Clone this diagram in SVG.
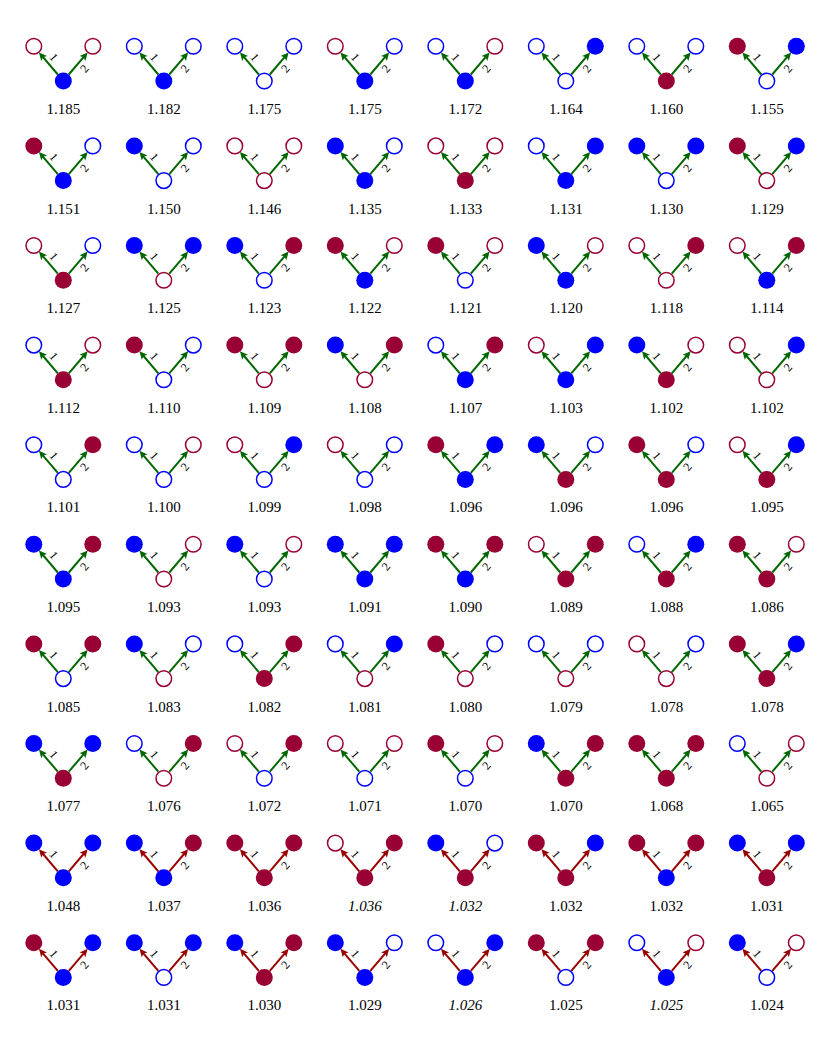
<svg xmlns="http://www.w3.org/2000/svg" xmlns:xlink="http://www.w3.org/1999/xlink" width="830" height="1037" viewBox="0 0 830 1037">
<style>
.bf{fill:#0000ff}
.rf{fill:#990033}
.bo{fill:#fff;stroke:#0000ff;stroke-width:1.5}
.ro{fill:#fff;stroke:#990033;stroke-width:1.5}
.v{font-family:"Liberation Serif","Times New Roman",serif;font-size:15px;text-anchor:middle;fill:#000}
.i{font-style:italic}
.el{font-family:"Liberation Serif","Times New Roman",serif;font-size:12px;text-anchor:middle;dominant-baseline:central;fill:#000}
.eg{stroke:#006600;stroke-width:2;fill:none}
.er{stroke:#990000;stroke-width:2;fill:none}
</style>
<defs>
<marker id="ag" markerUnits="userSpaceOnUse" orient="auto" overflow="visible" markerWidth="10" markerHeight="10" refX="0" refY="0"><path d="M5,0 L-3,-3.8 L-1.3,0 L-3,3.8 Z" fill="#006600"/></marker>
<marker id="ar" markerUnits="userSpaceOnUse" orient="auto" overflow="visible" markerWidth="10" markerHeight="10" refX="0" refY="0"><path d="M5,0 L-3,-3.8 L-1.3,0 L-3,3.8 Z" fill="#990000"/></marker>
<path id="gL" class="eg" d="M-5.5,28.2 L-21.1,9.9" marker-end="url(#ag)"/>
<path id="gR" class="eg" d="M5.5,28.2 L21.1,9.9" marker-end="url(#ag)"/>
<path id="rL" class="er" d="M-5.5,28.2 L-21.1,9.9" marker-end="url(#ar)"/>
<path id="rR" class="er" d="M5.5,28.2 L21.1,9.9" marker-end="url(#ar)"/>
</defs>
<rect width="830" height="1037" fill="#fff"/>
<g id="connectors">
<g transform="translate(63.3,46.3)"><use href="#gL"/><use href="#gR"/><text class="el" transform="translate(-9.5,11) rotate(49.6)">1</text><text class="el" transform="translate(21.2,22.2) rotate(-49.6)">2</text></g>
<g transform="translate(163.8,46.3)"><use href="#gL"/><use href="#gR"/><text class="el" transform="translate(-9.5,11) rotate(49.6)">1</text><text class="el" transform="translate(21.2,22.2) rotate(-49.6)">2</text></g>
<g transform="translate(264.3,46.3)"><use href="#gL"/><use href="#gR"/><text class="el" transform="translate(-9.5,11) rotate(49.6)">1</text><text class="el" transform="translate(21.2,22.2) rotate(-49.6)">2</text></g>
<g transform="translate(364.8,46.3)"><use href="#gL"/><use href="#gR"/><text class="el" transform="translate(-9.5,11) rotate(49.6)">1</text><text class="el" transform="translate(21.2,22.2) rotate(-49.6)">2</text></g>
<g transform="translate(465.3,46.3)"><use href="#gL"/><use href="#gR"/><text class="el" transform="translate(-9.5,11) rotate(49.6)">1</text><text class="el" transform="translate(21.2,22.2) rotate(-49.6)">2</text></g>
<g transform="translate(565.8,46.3)"><use href="#gL"/><use href="#gR"/><text class="el" transform="translate(-9.5,11) rotate(49.6)">1</text><text class="el" transform="translate(21.2,22.2) rotate(-49.6)">2</text></g>
<g transform="translate(666.3,46.3)"><use href="#gL"/><use href="#gR"/><text class="el" transform="translate(-9.5,11) rotate(49.6)">1</text><text class="el" transform="translate(21.2,22.2) rotate(-49.6)">2</text></g>
<g transform="translate(766.8,46.3)"><use href="#gL"/><use href="#gR"/><text class="el" transform="translate(-9.5,11) rotate(49.6)">1</text><text class="el" transform="translate(21.2,22.2) rotate(-49.6)">2</text></g>
<g transform="translate(63.3,145.9)"><use href="#gL"/><use href="#gR"/><text class="el" transform="translate(-9.5,11) rotate(49.6)">1</text><text class="el" transform="translate(21.2,22.2) rotate(-49.6)">2</text></g>
<g transform="translate(163.8,145.9)"><use href="#gL"/><use href="#gR"/><text class="el" transform="translate(-9.5,11) rotate(49.6)">1</text><text class="el" transform="translate(21.2,22.2) rotate(-49.6)">2</text></g>
<g transform="translate(264.3,145.9)"><use href="#gL"/><use href="#gR"/><text class="el" transform="translate(-9.5,11) rotate(49.6)">1</text><text class="el" transform="translate(21.2,22.2) rotate(-49.6)">2</text></g>
<g transform="translate(364.8,145.9)"><use href="#gL"/><use href="#gR"/><text class="el" transform="translate(-9.5,11) rotate(49.6)">1</text><text class="el" transform="translate(21.2,22.2) rotate(-49.6)">2</text></g>
<g transform="translate(465.3,145.9)"><use href="#gL"/><use href="#gR"/><text class="el" transform="translate(-9.5,11) rotate(49.6)">1</text><text class="el" transform="translate(21.2,22.2) rotate(-49.6)">2</text></g>
<g transform="translate(565.8,145.9)"><use href="#gL"/><use href="#gR"/><text class="el" transform="translate(-9.5,11) rotate(49.6)">1</text><text class="el" transform="translate(21.2,22.2) rotate(-49.6)">2</text></g>
<g transform="translate(666.3,145.9)"><use href="#gL"/><use href="#gR"/><text class="el" transform="translate(-9.5,11) rotate(49.6)">1</text><text class="el" transform="translate(21.2,22.2) rotate(-49.6)">2</text></g>
<g transform="translate(766.8,145.9)"><use href="#gL"/><use href="#gR"/><text class="el" transform="translate(-9.5,11) rotate(49.6)">1</text><text class="el" transform="translate(21.2,22.2) rotate(-49.6)">2</text></g>
<g transform="translate(63.3,245.5)"><use href="#gL"/><use href="#gR"/><text class="el" transform="translate(-9.5,11) rotate(49.6)">1</text><text class="el" transform="translate(21.2,22.2) rotate(-49.6)">2</text></g>
<g transform="translate(163.8,245.5)"><use href="#gL"/><use href="#gR"/><text class="el" transform="translate(-9.5,11) rotate(49.6)">1</text><text class="el" transform="translate(21.2,22.2) rotate(-49.6)">2</text></g>
<g transform="translate(264.3,245.5)"><use href="#gL"/><use href="#gR"/><text class="el" transform="translate(-9.5,11) rotate(49.6)">1</text><text class="el" transform="translate(21.2,22.2) rotate(-49.6)">2</text></g>
<g transform="translate(364.8,245.5)"><use href="#gL"/><use href="#gR"/><text class="el" transform="translate(-9.5,11) rotate(49.6)">1</text><text class="el" transform="translate(21.2,22.2) rotate(-49.6)">2</text></g>
<g transform="translate(465.3,245.5)"><use href="#gL"/><use href="#gR"/><text class="el" transform="translate(-9.5,11) rotate(49.6)">1</text><text class="el" transform="translate(21.2,22.2) rotate(-49.6)">2</text></g>
<g transform="translate(565.8,245.5)"><use href="#gL"/><use href="#gR"/><text class="el" transform="translate(-9.5,11) rotate(49.6)">1</text><text class="el" transform="translate(21.2,22.2) rotate(-49.6)">2</text></g>
<g transform="translate(666.3,245.5)"><use href="#gL"/><use href="#gR"/><text class="el" transform="translate(-9.5,11) rotate(49.6)">1</text><text class="el" transform="translate(21.2,22.2) rotate(-49.6)">2</text></g>
<g transform="translate(766.8,245.5)"><use href="#gL"/><use href="#gR"/><text class="el" transform="translate(-9.5,11) rotate(49.6)">1</text><text class="el" transform="translate(21.2,22.2) rotate(-49.6)">2</text></g>
<g transform="translate(63.3,345.1)"><use href="#gL"/><use href="#gR"/><text class="el" transform="translate(-9.5,11) rotate(49.6)">1</text><text class="el" transform="translate(21.2,22.2) rotate(-49.6)">2</text></g>
<g transform="translate(163.8,345.1)"><use href="#gL"/><use href="#gR"/><text class="el" transform="translate(-9.5,11) rotate(49.6)">1</text><text class="el" transform="translate(21.2,22.2) rotate(-49.6)">2</text></g>
<g transform="translate(264.3,345.1)"><use href="#gL"/><use href="#gR"/><text class="el" transform="translate(-9.5,11) rotate(49.6)">1</text><text class="el" transform="translate(21.2,22.2) rotate(-49.6)">2</text></g>
<g transform="translate(364.8,345.1)"><use href="#gL"/><use href="#gR"/><text class="el" transform="translate(-9.5,11) rotate(49.6)">1</text><text class="el" transform="translate(21.2,22.2) rotate(-49.6)">2</text></g>
<g transform="translate(465.3,345.1)"><use href="#gL"/><use href="#gR"/><text class="el" transform="translate(-9.5,11) rotate(49.6)">1</text><text class="el" transform="translate(21.2,22.2) rotate(-49.6)">2</text></g>
<g transform="translate(565.8,345.1)"><use href="#gL"/><use href="#gR"/><text class="el" transform="translate(-9.5,11) rotate(49.6)">1</text><text class="el" transform="translate(21.2,22.2) rotate(-49.6)">2</text></g>
<g transform="translate(666.3,345.1)"><use href="#gL"/><use href="#gR"/><text class="el" transform="translate(-9.5,11) rotate(49.6)">1</text><text class="el" transform="translate(21.2,22.2) rotate(-49.6)">2</text></g>
<g transform="translate(766.8,345.1)"><use href="#gL"/><use href="#gR"/><text class="el" transform="translate(-9.5,11) rotate(49.6)">1</text><text class="el" transform="translate(21.2,22.2) rotate(-49.6)">2</text></g>
<g transform="translate(63.3,444.7)"><use href="#gL"/><use href="#gR"/><text class="el" transform="translate(-9.5,11) rotate(49.6)">1</text><text class="el" transform="translate(21.2,22.2) rotate(-49.6)">2</text></g>
<g transform="translate(163.8,444.7)"><use href="#gL"/><use href="#gR"/><text class="el" transform="translate(-9.5,11) rotate(49.6)">1</text><text class="el" transform="translate(21.2,22.2) rotate(-49.6)">2</text></g>
<g transform="translate(264.3,444.7)"><use href="#gL"/><use href="#gR"/><text class="el" transform="translate(-9.5,11) rotate(49.6)">1</text><text class="el" transform="translate(21.2,22.2) rotate(-49.6)">2</text></g>
<g transform="translate(364.8,444.7)"><use href="#gL"/><use href="#gR"/><text class="el" transform="translate(-9.5,11) rotate(49.6)">1</text><text class="el" transform="translate(21.2,22.2) rotate(-49.6)">2</text></g>
<g transform="translate(465.3,444.7)"><use href="#gL"/><use href="#gR"/><text class="el" transform="translate(-9.5,11) rotate(49.6)">1</text><text class="el" transform="translate(21.2,22.2) rotate(-49.6)">2</text></g>
<g transform="translate(565.8,444.7)"><use href="#gL"/><use href="#gR"/><text class="el" transform="translate(-9.5,11) rotate(49.6)">1</text><text class="el" transform="translate(21.2,22.2) rotate(-49.6)">2</text></g>
<g transform="translate(666.3,444.7)"><use href="#gL"/><use href="#gR"/><text class="el" transform="translate(-9.5,11) rotate(49.6)">1</text><text class="el" transform="translate(21.2,22.2) rotate(-49.6)">2</text></g>
<g transform="translate(766.8,444.7)"><use href="#gL"/><use href="#gR"/><text class="el" transform="translate(-9.5,11) rotate(49.6)">1</text><text class="el" transform="translate(21.2,22.2) rotate(-49.6)">2</text></g>
<g transform="translate(63.3,544.3)"><use href="#gL"/><use href="#gR"/><text class="el" transform="translate(-9.5,11) rotate(49.6)">1</text><text class="el" transform="translate(21.2,22.2) rotate(-49.6)">2</text></g>
<g transform="translate(163.8,544.3)"><use href="#gL"/><use href="#gR"/><text class="el" transform="translate(-9.5,11) rotate(49.6)">1</text><text class="el" transform="translate(21.2,22.2) rotate(-49.6)">2</text></g>
<g transform="translate(264.3,544.3)"><use href="#gL"/><use href="#gR"/><text class="el" transform="translate(-9.5,11) rotate(49.6)">1</text><text class="el" transform="translate(21.2,22.2) rotate(-49.6)">2</text></g>
<g transform="translate(364.8,544.3)"><use href="#gL"/><use href="#gR"/><text class="el" transform="translate(-9.5,11) rotate(49.6)">1</text><text class="el" transform="translate(21.2,22.2) rotate(-49.6)">2</text></g>
<g transform="translate(465.3,544.3)"><use href="#gL"/><use href="#gR"/><text class="el" transform="translate(-9.5,11) rotate(49.6)">1</text><text class="el" transform="translate(21.2,22.2) rotate(-49.6)">2</text></g>
<g transform="translate(565.8,544.3)"><use href="#gL"/><use href="#gR"/><text class="el" transform="translate(-9.5,11) rotate(49.6)">1</text><text class="el" transform="translate(21.2,22.2) rotate(-49.6)">2</text></g>
<g transform="translate(666.3,544.3)"><use href="#gL"/><use href="#gR"/><text class="el" transform="translate(-9.5,11) rotate(49.6)">1</text><text class="el" transform="translate(21.2,22.2) rotate(-49.6)">2</text></g>
<g transform="translate(766.8,544.3)"><use href="#gL"/><use href="#gR"/><text class="el" transform="translate(-9.5,11) rotate(49.6)">1</text><text class="el" transform="translate(21.2,22.2) rotate(-49.6)">2</text></g>
<g transform="translate(63.3,643.9)"><use href="#gL"/><use href="#gR"/><text class="el" transform="translate(-9.5,11) rotate(49.6)">1</text><text class="el" transform="translate(21.2,22.2) rotate(-49.6)">2</text></g>
<g transform="translate(163.8,643.9)"><use href="#gL"/><use href="#gR"/><text class="el" transform="translate(-9.5,11) rotate(49.6)">1</text><text class="el" transform="translate(21.2,22.2) rotate(-49.6)">2</text></g>
<g transform="translate(264.3,643.9)"><use href="#gL"/><use href="#gR"/><text class="el" transform="translate(-9.5,11) rotate(49.6)">1</text><text class="el" transform="translate(21.2,22.2) rotate(-49.6)">2</text></g>
<g transform="translate(364.8,643.9)"><use href="#gL"/><use href="#gR"/><text class="el" transform="translate(-9.5,11) rotate(49.6)">1</text><text class="el" transform="translate(21.2,22.2) rotate(-49.6)">2</text></g>
<g transform="translate(465.3,643.9)"><use href="#gL"/><use href="#gR"/><text class="el" transform="translate(-9.5,11) rotate(49.6)">1</text><text class="el" transform="translate(21.2,22.2) rotate(-49.6)">2</text></g>
<g transform="translate(565.8,643.9)"><use href="#gL"/><use href="#gR"/><text class="el" transform="translate(-9.5,11) rotate(49.6)">1</text><text class="el" transform="translate(21.2,22.2) rotate(-49.6)">2</text></g>
<g transform="translate(666.3,643.9)"><use href="#gL"/><use href="#gR"/><text class="el" transform="translate(-9.5,11) rotate(49.6)">1</text><text class="el" transform="translate(21.2,22.2) rotate(-49.6)">2</text></g>
<g transform="translate(766.8,643.9)"><use href="#gL"/><use href="#gR"/><text class="el" transform="translate(-9.5,11) rotate(49.6)">1</text><text class="el" transform="translate(21.2,22.2) rotate(-49.6)">2</text></g>
<g transform="translate(63.3,743.5)"><use href="#gL"/><use href="#gR"/><text class="el" transform="translate(-9.5,11) rotate(49.6)">1</text><text class="el" transform="translate(21.2,22.2) rotate(-49.6)">2</text></g>
<g transform="translate(163.8,743.5)"><use href="#gL"/><use href="#gR"/><text class="el" transform="translate(-9.5,11) rotate(49.6)">1</text><text class="el" transform="translate(21.2,22.2) rotate(-49.6)">2</text></g>
<g transform="translate(264.3,743.5)"><use href="#gL"/><use href="#gR"/><text class="el" transform="translate(-9.5,11) rotate(49.6)">1</text><text class="el" transform="translate(21.2,22.2) rotate(-49.6)">2</text></g>
<g transform="translate(364.8,743.5)"><use href="#gL"/><use href="#gR"/><text class="el" transform="translate(-9.5,11) rotate(49.6)">1</text><text class="el" transform="translate(21.2,22.2) rotate(-49.6)">2</text></g>
<g transform="translate(465.3,743.5)"><use href="#gL"/><use href="#gR"/><text class="el" transform="translate(-9.5,11) rotate(49.6)">1</text><text class="el" transform="translate(21.2,22.2) rotate(-49.6)">2</text></g>
<g transform="translate(565.8,743.5)"><use href="#gL"/><use href="#gR"/><text class="el" transform="translate(-9.5,11) rotate(49.6)">1</text><text class="el" transform="translate(21.2,22.2) rotate(-49.6)">2</text></g>
<g transform="translate(666.3,743.5)"><use href="#gL"/><use href="#gR"/><text class="el" transform="translate(-9.5,11) rotate(49.6)">1</text><text class="el" transform="translate(21.2,22.2) rotate(-49.6)">2</text></g>
<g transform="translate(766.8,743.5)"><use href="#gL"/><use href="#gR"/><text class="el" transform="translate(-9.5,11) rotate(49.6)">1</text><text class="el" transform="translate(21.2,22.2) rotate(-49.6)">2</text></g>
<g transform="translate(63.3,843.1)"><use href="#rL"/><use href="#rR"/><text class="el" transform="translate(-9.5,11) rotate(49.6)">1</text><text class="el" transform="translate(21.2,22.2) rotate(-49.6)">2</text></g>
<g transform="translate(163.8,843.1)"><use href="#rL"/><use href="#rR"/><text class="el" transform="translate(-9.5,11) rotate(49.6)">1</text><text class="el" transform="translate(21.2,22.2) rotate(-49.6)">2</text></g>
<g transform="translate(264.3,843.1)"><use href="#rL"/><use href="#rR"/><text class="el" transform="translate(-9.5,11) rotate(49.6)">1</text><text class="el" transform="translate(21.2,22.2) rotate(-49.6)">2</text></g>
<g transform="translate(364.8,843.1)"><use href="#rL"/><use href="#rR"/><text class="el" transform="translate(-9.5,11) rotate(49.6)">1</text><text class="el" transform="translate(21.2,22.2) rotate(-49.6)">2</text></g>
<g transform="translate(465.3,843.1)"><use href="#rL"/><use href="#rR"/><text class="el" transform="translate(-9.5,11) rotate(49.6)">1</text><text class="el" transform="translate(21.2,22.2) rotate(-49.6)">2</text></g>
<g transform="translate(565.8,843.1)"><use href="#rL"/><use href="#rR"/><text class="el" transform="translate(-9.5,11) rotate(49.6)">1</text><text class="el" transform="translate(21.2,22.2) rotate(-49.6)">2</text></g>
<g transform="translate(666.3,843.1)"><use href="#rL"/><use href="#rR"/><text class="el" transform="translate(-9.5,11) rotate(49.6)">1</text><text class="el" transform="translate(21.2,22.2) rotate(-49.6)">2</text></g>
<g transform="translate(766.8,843.1)"><use href="#rL"/><use href="#rR"/><text class="el" transform="translate(-9.5,11) rotate(49.6)">1</text><text class="el" transform="translate(21.2,22.2) rotate(-49.6)">2</text></g>
<g transform="translate(63.3,942.7)"><use href="#rL"/><use href="#rR"/><text class="el" transform="translate(-9.5,11) rotate(49.6)">1</text><text class="el" transform="translate(21.2,22.2) rotate(-49.6)">2</text></g>
<g transform="translate(163.8,942.7)"><use href="#rL"/><use href="#rR"/><text class="el" transform="translate(-9.5,11) rotate(49.6)">1</text><text class="el" transform="translate(21.2,22.2) rotate(-49.6)">2</text></g>
<g transform="translate(264.3,942.7)"><use href="#rL"/><use href="#rR"/><text class="el" transform="translate(-9.5,11) rotate(49.6)">1</text><text class="el" transform="translate(21.2,22.2) rotate(-49.6)">2</text></g>
<g transform="translate(364.8,942.7)"><use href="#rL"/><use href="#rR"/><text class="el" transform="translate(-9.5,11) rotate(49.6)">1</text><text class="el" transform="translate(21.2,22.2) rotate(-49.6)">2</text></g>
<g transform="translate(465.3,942.7)"><use href="#rL"/><use href="#rR"/><text class="el" transform="translate(-9.5,11) rotate(49.6)">1</text><text class="el" transform="translate(21.2,22.2) rotate(-49.6)">2</text></g>
<g transform="translate(565.8,942.7)"><use href="#rL"/><use href="#rR"/><text class="el" transform="translate(-9.5,11) rotate(49.6)">1</text><text class="el" transform="translate(21.2,22.2) rotate(-49.6)">2</text></g>
<g transform="translate(666.3,942.7)"><use href="#rL"/><use href="#rR"/><text class="el" transform="translate(-9.5,11) rotate(49.6)">1</text><text class="el" transform="translate(21.2,22.2) rotate(-49.6)">2</text></g>
<g transform="translate(766.8,942.7)"><use href="#rL"/><use href="#rR"/><text class="el" transform="translate(-9.5,11) rotate(49.6)">1</text><text class="el" transform="translate(21.2,22.2) rotate(-49.6)">2</text></g>
</g>
<g id="cells">
<g id="c1-1" transform="translate(63.3,46.3)"><g id="c1-1-l"><circle class="ro" cx="-29.5" r="7.8"/></g><g id="c1-1-r"><circle class="ro" cx="29.5" r="7.8"/></g><g id="c1-1-b"><circle class="bf" cy="34.7" r="8.5"/></g><text class="v" y="67.7">1.185</text></g>
<g id="c1-2" transform="translate(163.8,46.3)"><g id="c1-2-l"><circle class="bo" cx="-29.5" r="7.8"/></g><g id="c1-2-r"><circle class="bo" cx="29.5" r="7.8"/></g><g id="c1-2-b"><circle class="bf" cy="34.7" r="8.5"/></g><text class="v" y="67.7">1.182</text></g>
<g id="c1-3" transform="translate(264.3,46.3)"><g id="c1-3-l"><circle class="bo" cx="-29.5" r="7.8"/></g><g id="c1-3-r"><circle class="bo" cx="29.5" r="7.8"/></g><g id="c1-3-b"><circle class="bo" cy="34.7" r="7.8"/></g><text class="v" y="67.7">1.175</text></g>
<g id="c1-4" transform="translate(364.8,46.3)"><g id="c1-4-l"><circle class="ro" cx="-29.5" r="7.8"/></g><g id="c1-4-r"><circle class="bo" cx="29.5" r="7.8"/></g><g id="c1-4-b"><circle class="bf" cy="34.7" r="8.5"/></g><text class="v" y="67.7">1.175</text></g>
<g id="c1-5" transform="translate(465.3,46.3)"><g id="c1-5-l"><circle class="bo" cx="-29.5" r="7.8"/></g><g id="c1-5-r"><circle class="ro" cx="29.5" r="7.8"/></g><g id="c1-5-b"><circle class="bf" cy="34.7" r="8.5"/></g><text class="v" y="67.7">1.172</text></g>
<g id="c1-6" transform="translate(565.8,46.3)"><g id="c1-6-l"><circle class="bo" cx="-29.5" r="7.8"/></g><g id="c1-6-r"><circle class="bf" cx="29.5" r="8.5"/></g><g id="c1-6-b"><circle class="bo" cy="34.7" r="7.8"/></g><text class="v" y="67.7">1.164</text></g>
<g id="c1-7" transform="translate(666.3,46.3)"><g id="c1-7-l"><circle class="bo" cx="-29.5" r="7.8"/></g><g id="c1-7-r"><circle class="bo" cx="29.5" r="7.8"/></g><g id="c1-7-b"><circle class="rf" cy="34.7" r="8.5"/></g><text class="v" y="67.7">1.160</text></g>
<g id="c1-8" transform="translate(766.8,46.3)"><g id="c1-8-l"><circle class="rf" cx="-29.5" r="8.5"/></g><g id="c1-8-r"><circle class="bf" cx="29.5" r="8.5"/></g><g id="c1-8-b"><circle class="bo" cy="34.7" r="7.8"/></g><text class="v" y="67.7">1.155</text></g>
<g id="c2-1" transform="translate(63.3,145.9)"><g id="c2-1-l"><circle class="rf" cx="-29.5" r="8.5"/></g><g id="c2-1-r"><circle class="bo" cx="29.5" r="7.8"/></g><g id="c2-1-b"><circle class="bf" cy="34.7" r="8.5"/></g><text class="v" y="67.7">1.151</text></g>
<g id="c2-2" transform="translate(163.8,145.9)"><g id="c2-2-l"><circle class="bf" cx="-29.5" r="8.5"/></g><g id="c2-2-r"><circle class="bo" cx="29.5" r="7.8"/></g><g id="c2-2-b"><circle class="bo" cy="34.7" r="7.8"/></g><text class="v" y="67.7">1.150</text></g>
<g id="c2-3" transform="translate(264.3,145.9)"><g id="c2-3-l"><circle class="ro" cx="-29.5" r="7.8"/></g><g id="c2-3-r"><circle class="ro" cx="29.5" r="7.8"/></g><g id="c2-3-b"><circle class="ro" cy="34.7" r="7.8"/></g><text class="v" y="67.7">1.146</text></g>
<g id="c2-4" transform="translate(364.8,145.9)"><g id="c2-4-l"><circle class="bf" cx="-29.5" r="8.5"/></g><g id="c2-4-r"><circle class="bo" cx="29.5" r="7.8"/></g><g id="c2-4-b"><circle class="bf" cy="34.7" r="8.5"/></g><text class="v" y="67.7">1.135</text></g>
<g id="c2-5" transform="translate(465.3,145.9)"><g id="c2-5-l"><circle class="ro" cx="-29.5" r="7.8"/></g><g id="c2-5-r"><circle class="ro" cx="29.5" r="7.8"/></g><g id="c2-5-b"><circle class="rf" cy="34.7" r="8.5"/></g><text class="v" y="67.7">1.133</text></g>
<g id="c2-6" transform="translate(565.8,145.9)"><g id="c2-6-l"><circle class="bo" cx="-29.5" r="7.8"/></g><g id="c2-6-r"><circle class="bf" cx="29.5" r="8.5"/></g><g id="c2-6-b"><circle class="bf" cy="34.7" r="8.5"/></g><text class="v" y="67.7">1.131</text></g>
<g id="c2-7" transform="translate(666.3,145.9)"><g id="c2-7-l"><circle class="bf" cx="-29.5" r="8.5"/></g><g id="c2-7-r"><circle class="bf" cx="29.5" r="8.5"/></g><g id="c2-7-b"><circle class="bo" cy="34.7" r="7.8"/></g><text class="v" y="67.7">1.130</text></g>
<g id="c2-8" transform="translate(766.8,145.9)"><g id="c2-8-l"><circle class="rf" cx="-29.5" r="8.5"/></g><g id="c2-8-r"><circle class="bf" cx="29.5" r="8.5"/></g><g id="c2-8-b"><circle class="ro" cy="34.7" r="7.8"/></g><text class="v" y="67.7">1.129</text></g>
<g id="c3-1" transform="translate(63.3,245.5)"><g id="c3-1-l"><circle class="ro" cx="-29.5" r="7.8"/></g><g id="c3-1-r"><circle class="bo" cx="29.5" r="7.8"/></g><g id="c3-1-b"><circle class="rf" cy="34.7" r="8.5"/></g><text class="v" y="67.7">1.127</text></g>
<g id="c3-2" transform="translate(163.8,245.5)"><g id="c3-2-l"><circle class="bf" cx="-29.5" r="8.5"/></g><g id="c3-2-r"><circle class="bf" cx="29.5" r="8.5"/></g><g id="c3-2-b"><circle class="ro" cy="34.7" r="7.8"/></g><text class="v" y="67.7">1.125</text></g>
<g id="c3-3" transform="translate(264.3,245.5)"><g id="c3-3-l"><circle class="bf" cx="-29.5" r="8.5"/></g><g id="c3-3-r"><circle class="rf" cx="29.5" r="8.5"/></g><g id="c3-3-b"><circle class="bo" cy="34.7" r="7.8"/></g><text class="v" y="67.7">1.123</text></g>
<g id="c3-4" transform="translate(364.8,245.5)"><g id="c3-4-l"><circle class="rf" cx="-29.5" r="8.5"/></g><g id="c3-4-r"><circle class="ro" cx="29.5" r="7.8"/></g><g id="c3-4-b"><circle class="bf" cy="34.7" r="8.5"/></g><text class="v" y="67.7">1.122</text></g>
<g id="c3-5" transform="translate(465.3,245.5)"><g id="c3-5-l"><circle class="rf" cx="-29.5" r="8.5"/></g><g id="c3-5-r"><circle class="ro" cx="29.5" r="7.8"/></g><g id="c3-5-b"><circle class="bo" cy="34.7" r="7.8"/></g><text class="v" y="67.7">1.121</text></g>
<g id="c3-6" transform="translate(565.8,245.5)"><g id="c3-6-l"><circle class="bf" cx="-29.5" r="8.5"/></g><g id="c3-6-r"><circle class="ro" cx="29.5" r="7.8"/></g><g id="c3-6-b"><circle class="bf" cy="34.7" r="8.5"/></g><text class="v" y="67.7">1.120</text></g>
<g id="c3-7" transform="translate(666.3,245.5)"><g id="c3-7-l"><circle class="ro" cx="-29.5" r="7.8"/></g><g id="c3-7-r"><circle class="rf" cx="29.5" r="8.5"/></g><g id="c3-7-b"><circle class="ro" cy="34.7" r="7.8"/></g><text class="v" y="67.7">1.118</text></g>
<g id="c3-8" transform="translate(766.8,245.5)"><g id="c3-8-l"><circle class="ro" cx="-29.5" r="7.8"/></g><g id="c3-8-r"><circle class="rf" cx="29.5" r="8.5"/></g><g id="c3-8-b"><circle class="bf" cy="34.7" r="8.5"/></g><text class="v" y="67.7">1.114</text></g>
<g id="c4-1" transform="translate(63.3,345.1)"><g id="c4-1-l"><circle class="bo" cx="-29.5" r="7.8"/></g><g id="c4-1-r"><circle class="ro" cx="29.5" r="7.8"/></g><g id="c4-1-b"><circle class="rf" cy="34.7" r="8.5"/></g><text class="v" y="67.7">1.112</text></g>
<g id="c4-2" transform="translate(163.8,345.1)"><g id="c4-2-l"><circle class="rf" cx="-29.5" r="8.5"/></g><g id="c4-2-r"><circle class="bo" cx="29.5" r="7.8"/></g><g id="c4-2-b"><circle class="bo" cy="34.7" r="7.8"/></g><text class="v" y="67.7">1.110</text></g>
<g id="c4-3" transform="translate(264.3,345.1)"><g id="c4-3-l"><circle class="rf" cx="-29.5" r="8.5"/></g><g id="c4-3-r"><circle class="rf" cx="29.5" r="8.5"/></g><g id="c4-3-b"><circle class="ro" cy="34.7" r="7.8"/></g><text class="v" y="67.7">1.109</text></g>
<g id="c4-4" transform="translate(364.8,345.1)"><g id="c4-4-l"><circle class="bf" cx="-29.5" r="8.5"/></g><g id="c4-4-r"><circle class="rf" cx="29.5" r="8.5"/></g><g id="c4-4-b"><circle class="ro" cy="34.7" r="7.8"/></g><text class="v" y="67.7">1.108</text></g>
<g id="c4-5" transform="translate(465.3,345.1)"><g id="c4-5-l"><circle class="bo" cx="-29.5" r="7.8"/></g><g id="c4-5-r"><circle class="rf" cx="29.5" r="8.5"/></g><g id="c4-5-b"><circle class="bf" cy="34.7" r="8.5"/></g><text class="v" y="67.7">1.107</text></g>
<g id="c4-6" transform="translate(565.8,345.1)"><g id="c4-6-l"><circle class="ro" cx="-29.5" r="7.8"/></g><g id="c4-6-r"><circle class="bf" cx="29.5" r="8.5"/></g><g id="c4-6-b"><circle class="bf" cy="34.7" r="8.5"/></g><text class="v" y="67.7">1.103</text></g>
<g id="c4-7" transform="translate(666.3,345.1)"><g id="c4-7-l"><circle class="bf" cx="-29.5" r="8.5"/></g><g id="c4-7-r"><circle class="ro" cx="29.5" r="7.8"/></g><g id="c4-7-b"><circle class="rf" cy="34.7" r="8.5"/></g><text class="v" y="67.7">1.102</text></g>
<g id="c4-8" transform="translate(766.8,345.1)"><g id="c4-8-l"><circle class="ro" cx="-29.5" r="7.8"/></g><g id="c4-8-r"><circle class="bf" cx="29.5" r="8.5"/></g><g id="c4-8-b"><circle class="ro" cy="34.7" r="7.8"/></g><text class="v" y="67.7">1.102</text></g>
<g id="c5-1" transform="translate(63.3,444.7)"><g id="c5-1-l"><circle class="bo" cx="-29.5" r="7.8"/></g><g id="c5-1-r"><circle class="rf" cx="29.5" r="8.5"/></g><g id="c5-1-b"><circle class="bo" cy="34.7" r="7.8"/></g><text class="v" y="67.7">1.101</text></g>
<g id="c5-2" transform="translate(163.8,444.7)"><g id="c5-2-l"><circle class="bo" cx="-29.5" r="7.8"/></g><g id="c5-2-r"><circle class="ro" cx="29.5" r="7.8"/></g><g id="c5-2-b"><circle class="bo" cy="34.7" r="7.8"/></g><text class="v" y="67.7">1.100</text></g>
<g id="c5-3" transform="translate(264.3,444.7)"><g id="c5-3-l"><circle class="ro" cx="-29.5" r="7.8"/></g><g id="c5-3-r"><circle class="bf" cx="29.5" r="8.5"/></g><g id="c5-3-b"><circle class="bo" cy="34.7" r="7.8"/></g><text class="v" y="67.7">1.099</text></g>
<g id="c5-4" transform="translate(364.8,444.7)"><g id="c5-4-l"><circle class="ro" cx="-29.5" r="7.8"/></g><g id="c5-4-r"><circle class="bo" cx="29.5" r="7.8"/></g><g id="c5-4-b"><circle class="bo" cy="34.7" r="7.8"/></g><text class="v" y="67.7">1.098</text></g>
<g id="c5-5" transform="translate(465.3,444.7)"><g id="c5-5-l"><circle class="rf" cx="-29.5" r="8.5"/></g><g id="c5-5-r"><circle class="bf" cx="29.5" r="8.5"/></g><g id="c5-5-b"><circle class="bf" cy="34.7" r="8.5"/></g><text class="v" y="67.7">1.096</text></g>
<g id="c5-6" transform="translate(565.8,444.7)"><g id="c5-6-l"><circle class="bf" cx="-29.5" r="8.5"/></g><g id="c5-6-r"><circle class="bo" cx="29.5" r="7.8"/></g><g id="c5-6-b"><circle class="rf" cy="34.7" r="8.5"/></g><text class="v" y="67.7">1.096</text></g>
<g id="c5-7" transform="translate(666.3,444.7)"><g id="c5-7-l"><circle class="rf" cx="-29.5" r="8.5"/></g><g id="c5-7-r"><circle class="bo" cx="29.5" r="7.8"/></g><g id="c5-7-b"><circle class="rf" cy="34.7" r="8.5"/></g><text class="v" y="67.7">1.096</text></g>
<g id="c5-8" transform="translate(766.8,444.7)"><g id="c5-8-l"><circle class="ro" cx="-29.5" r="7.8"/></g><g id="c5-8-r"><circle class="bf" cx="29.5" r="8.5"/></g><g id="c5-8-b"><circle class="rf" cy="34.7" r="8.5"/></g><text class="v" y="67.7">1.095</text></g>
<g id="c6-1" transform="translate(63.3,544.3)"><g id="c6-1-l"><circle class="bf" cx="-29.5" r="8.5"/></g><g id="c6-1-r"><circle class="rf" cx="29.5" r="8.5"/></g><g id="c6-1-b"><circle class="bf" cy="34.7" r="8.5"/></g><text class="v" y="67.7">1.095</text></g>
<g id="c6-2" transform="translate(163.8,544.3)"><g id="c6-2-l"><circle class="bf" cx="-29.5" r="8.5"/></g><g id="c6-2-r"><circle class="ro" cx="29.5" r="7.8"/></g><g id="c6-2-b"><circle class="ro" cy="34.7" r="7.8"/></g><text class="v" y="67.7">1.093</text></g>
<g id="c6-3" transform="translate(264.3,544.3)"><g id="c6-3-l"><circle class="bf" cx="-29.5" r="8.5"/></g><g id="c6-3-r"><circle class="ro" cx="29.5" r="7.8"/></g><g id="c6-3-b"><circle class="bo" cy="34.7" r="7.8"/></g><text class="v" y="67.7">1.093</text></g>
<g id="c6-4" transform="translate(364.8,544.3)"><g id="c6-4-l"><circle class="bf" cx="-29.5" r="8.5"/></g><g id="c6-4-r"><circle class="bf" cx="29.5" r="8.5"/></g><g id="c6-4-b"><circle class="bf" cy="34.7" r="8.5"/></g><text class="v" y="67.7">1.091</text></g>
<g id="c6-5" transform="translate(465.3,544.3)"><g id="c6-5-l"><circle class="rf" cx="-29.5" r="8.5"/></g><g id="c6-5-r"><circle class="rf" cx="29.5" r="8.5"/></g><g id="c6-5-b"><circle class="bf" cy="34.7" r="8.5"/></g><text class="v" y="67.7">1.090</text></g>
<g id="c6-6" transform="translate(565.8,544.3)"><g id="c6-6-l"><circle class="ro" cx="-29.5" r="7.8"/></g><g id="c6-6-r"><circle class="rf" cx="29.5" r="8.5"/></g><g id="c6-6-b"><circle class="rf" cy="34.7" r="8.5"/></g><text class="v" y="67.7">1.089</text></g>
<g id="c6-7" transform="translate(666.3,544.3)"><g id="c6-7-l"><circle class="bo" cx="-29.5" r="7.8"/></g><g id="c6-7-r"><circle class="bf" cx="29.5" r="8.5"/></g><g id="c6-7-b"><circle class="rf" cy="34.7" r="8.5"/></g><text class="v" y="67.7">1.088</text></g>
<g id="c6-8" transform="translate(766.8,544.3)"><g id="c6-8-l"><circle class="rf" cx="-29.5" r="8.5"/></g><g id="c6-8-r"><circle class="ro" cx="29.5" r="7.8"/></g><g id="c6-8-b"><circle class="rf" cy="34.7" r="8.5"/></g><text class="v" y="67.7">1.086</text></g>
<g id="c7-1" transform="translate(63.3,643.9)"><g id="c7-1-l"><circle class="rf" cx="-29.5" r="8.5"/></g><g id="c7-1-r"><circle class="rf" cx="29.5" r="8.5"/></g><g id="c7-1-b"><circle class="bo" cy="34.7" r="7.8"/></g><text class="v" y="67.7">1.085</text></g>
<g id="c7-2" transform="translate(163.8,643.9)"><g id="c7-2-l"><circle class="bf" cx="-29.5" r="8.5"/></g><g id="c7-2-r"><circle class="bo" cx="29.5" r="7.8"/></g><g id="c7-2-b"><circle class="ro" cy="34.7" r="7.8"/></g><text class="v" y="67.7">1.083</text></g>
<g id="c7-3" transform="translate(264.3,643.9)"><g id="c7-3-l"><circle class="bo" cx="-29.5" r="7.8"/></g><g id="c7-3-r"><circle class="rf" cx="29.5" r="8.5"/></g><g id="c7-3-b"><circle class="rf" cy="34.7" r="8.5"/></g><text class="v" y="67.7">1.082</text></g>
<g id="c7-4" transform="translate(364.8,643.9)"><g id="c7-4-l"><circle class="bo" cx="-29.5" r="7.8"/></g><g id="c7-4-r"><circle class="bf" cx="29.5" r="8.5"/></g><g id="c7-4-b"><circle class="ro" cy="34.7" r="7.8"/></g><text class="v" y="67.7">1.081</text></g>
<g id="c7-5" transform="translate(465.3,643.9)"><g id="c7-5-l"><circle class="rf" cx="-29.5" r="8.5"/></g><g id="c7-5-r"><circle class="bo" cx="29.5" r="7.8"/></g><g id="c7-5-b"><circle class="ro" cy="34.7" r="7.8"/></g><text class="v" y="67.7">1.080</text></g>
<g id="c7-6" transform="translate(565.8,643.9)"><g id="c7-6-l"><circle class="bo" cx="-29.5" r="7.8"/></g><g id="c7-6-r"><circle class="bo" cx="29.5" r="7.8"/></g><g id="c7-6-b"><circle class="ro" cy="34.7" r="7.8"/></g><text class="v" y="67.7">1.079</text></g>
<g id="c7-7" transform="translate(666.3,643.9)"><g id="c7-7-l"><circle class="ro" cx="-29.5" r="7.8"/></g><g id="c7-7-r"><circle class="bo" cx="29.5" r="7.8"/></g><g id="c7-7-b"><circle class="ro" cy="34.7" r="7.8"/></g><text class="v" y="67.7">1.078</text></g>
<g id="c7-8" transform="translate(766.8,643.9)"><g id="c7-8-l"><circle class="rf" cx="-29.5" r="8.5"/></g><g id="c7-8-r"><circle class="bf" cx="29.5" r="8.5"/></g><g id="c7-8-b"><circle class="rf" cy="34.7" r="8.5"/></g><text class="v" y="67.7">1.078</text></g>
<g id="c8-1" transform="translate(63.3,743.5)"><g id="c8-1-l"><circle class="bf" cx="-29.5" r="8.5"/></g><g id="c8-1-r"><circle class="bf" cx="29.5" r="8.5"/></g><g id="c8-1-b"><circle class="rf" cy="34.7" r="8.5"/></g><text class="v" y="67.7">1.077</text></g>
<g id="c8-2" transform="translate(163.8,743.5)"><g id="c8-2-l"><circle class="bo" cx="-29.5" r="7.8"/></g><g id="c8-2-r"><circle class="rf" cx="29.5" r="8.5"/></g><g id="c8-2-b"><circle class="ro" cy="34.7" r="7.8"/></g><text class="v" y="67.7">1.076</text></g>
<g id="c8-3" transform="translate(264.3,743.5)"><g id="c8-3-l"><circle class="ro" cx="-29.5" r="7.8"/></g><g id="c8-3-r"><circle class="rf" cx="29.5" r="8.5"/></g><g id="c8-3-b"><circle class="bo" cy="34.7" r="7.8"/></g><text class="v" y="67.7">1.072</text></g>
<g id="c8-4" transform="translate(364.8,743.5)"><g id="c8-4-l"><circle class="ro" cx="-29.5" r="7.8"/></g><g id="c8-4-r"><circle class="ro" cx="29.5" r="7.8"/></g><g id="c8-4-b"><circle class="bo" cy="34.7" r="7.8"/></g><text class="v" y="67.7">1.071</text></g>
<g id="c8-5" transform="translate(465.3,743.5)"><g id="c8-5-l"><circle class="rf" cx="-29.5" r="8.5"/></g><g id="c8-5-r"><circle class="ro" cx="29.5" r="7.8"/></g><g id="c8-5-b"><circle class="bo" cy="34.7" r="7.8"/></g><text class="v" y="67.7">1.070</text></g>
<g id="c8-6" transform="translate(565.8,743.5)"><g id="c8-6-l"><circle class="bf" cx="-29.5" r="8.5"/></g><g id="c8-6-r"><circle class="rf" cx="29.5" r="8.5"/></g><g id="c8-6-b"><circle class="rf" cy="34.7" r="8.5"/></g><text class="v" y="67.7">1.070</text></g>
<g id="c8-7" transform="translate(666.3,743.5)"><g id="c8-7-l"><circle class="rf" cx="-29.5" r="8.5"/></g><g id="c8-7-r"><circle class="rf" cx="29.5" r="8.5"/></g><g id="c8-7-b"><circle class="rf" cy="34.7" r="8.5"/></g><text class="v" y="67.7">1.068</text></g>
<g id="c8-8" transform="translate(766.8,743.5)"><g id="c8-8-l"><circle class="bo" cx="-29.5" r="7.8"/></g><g id="c8-8-r"><circle class="ro" cx="29.5" r="7.8"/></g><g id="c8-8-b"><circle class="ro" cy="34.7" r="7.8"/></g><text class="v" y="67.7">1.065</text></g>
<g id="c9-1" transform="translate(63.3,843.1)"><g id="c9-1-l"><circle class="bf" cx="-29.5" r="8.5"/></g><g id="c9-1-r"><circle class="bf" cx="29.5" r="8.5"/></g><g id="c9-1-b"><circle class="bf" cy="34.7" r="8.5"/></g><text class="v" y="67.7">1.048</text></g>
<g id="c9-2" transform="translate(163.8,843.1)"><g id="c9-2-l"><circle class="bf" cx="-29.5" r="8.5"/></g><g id="c9-2-r"><circle class="rf" cx="29.5" r="8.5"/></g><g id="c9-2-b"><circle class="bf" cy="34.7" r="8.5"/></g><text class="v" y="67.7">1.037</text></g>
<g id="c9-3" transform="translate(264.3,843.1)"><g id="c9-3-l"><circle class="rf" cx="-29.5" r="8.5"/></g><g id="c9-3-r"><circle class="rf" cx="29.5" r="8.5"/></g><g id="c9-3-b"><circle class="rf" cy="34.7" r="8.5"/></g><text class="v" y="67.7">1.036</text></g>
<g id="c9-4" transform="translate(364.8,843.1)"><g id="c9-4-l"><circle class="ro" cx="-29.5" r="7.8"/></g><g id="c9-4-r"><circle class="rf" cx="29.5" r="8.5"/></g><g id="c9-4-b"><circle class="rf" cy="34.7" r="8.5"/></g><text class="v i" y="67.7">1.036</text></g>
<g id="c9-5" transform="translate(465.3,843.1)"><g id="c9-5-l"><circle class="bf" cx="-29.5" r="8.5"/></g><g id="c9-5-r"><circle class="bo" cx="29.5" r="7.8"/></g><g id="c9-5-b"><circle class="rf" cy="34.7" r="8.5"/></g><text class="v i" y="67.7">1.032</text></g>
<g id="c9-6" transform="translate(565.8,843.1)"><g id="c9-6-l"><circle class="rf" cx="-29.5" r="8.5"/></g><g id="c9-6-r"><circle class="bf" cx="29.5" r="8.5"/></g><g id="c9-6-b"><circle class="rf" cy="34.7" r="8.5"/></g><text class="v" y="67.7">1.032</text></g>
<g id="c9-7" transform="translate(666.3,843.1)"><g id="c9-7-l"><circle class="rf" cx="-29.5" r="8.5"/></g><g id="c9-7-r"><circle class="rf" cx="29.5" r="8.5"/></g><g id="c9-7-b"><circle class="bf" cy="34.7" r="8.5"/></g><text class="v" y="67.7">1.032</text></g>
<g id="c9-8" transform="translate(766.8,843.1)"><g id="c9-8-l"><circle class="bf" cx="-29.5" r="8.5"/></g><g id="c9-8-r"><circle class="bf" cx="29.5" r="8.5"/></g><g id="c9-8-b"><circle class="rf" cy="34.7" r="8.5"/></g><text class="v" y="67.7">1.031</text></g>
<g id="c10-1" transform="translate(63.3,942.7)"><g id="c10-1-l"><circle class="rf" cx="-29.5" r="8.5"/></g><g id="c10-1-r"><circle class="bf" cx="29.5" r="8.5"/></g><g id="c10-1-b"><circle class="bf" cy="34.7" r="8.5"/></g><text class="v" y="67.7">1.031</text></g>
<g id="c10-2" transform="translate(163.8,942.7)"><g id="c10-2-l"><circle class="bf" cx="-29.5" r="8.5"/></g><g id="c10-2-r"><circle class="bf" cx="29.5" r="8.5"/></g><g id="c10-2-b"><circle class="bo" cy="34.7" r="7.8"/></g><text class="v" y="67.7">1.031</text></g>
<g id="c10-3" transform="translate(264.3,942.7)"><g id="c10-3-l"><circle class="bf" cx="-29.5" r="8.5"/></g><g id="c10-3-r"><circle class="rf" cx="29.5" r="8.5"/></g><g id="c10-3-b"><circle class="rf" cy="34.7" r="8.5"/></g><text class="v" y="67.7">1.030</text></g>
<g id="c10-4" transform="translate(364.8,942.7)"><g id="c10-4-l"><circle class="bf" cx="-29.5" r="8.5"/></g><g id="c10-4-r"><circle class="bo" cx="29.5" r="7.8"/></g><g id="c10-4-b"><circle class="bf" cy="34.7" r="8.5"/></g><text class="v" y="67.7">1.029</text></g>
<g id="c10-5" transform="translate(465.3,942.7)"><g id="c10-5-l"><circle class="bo" cx="-29.5" r="7.8"/></g><g id="c10-5-r"><circle class="bf" cx="29.5" r="8.5"/></g><g id="c10-5-b"><circle class="bf" cy="34.7" r="8.5"/></g><text class="v i" y="67.7">1.026</text></g>
<g id="c10-6" transform="translate(565.8,942.7)"><g id="c10-6-l"><circle class="rf" cx="-29.5" r="8.5"/></g><g id="c10-6-r"><circle class="rf" cx="29.5" r="8.5"/></g><g id="c10-6-b"><circle class="bo" cy="34.7" r="7.8"/></g><text class="v" y="67.7">1.025</text></g>
<g id="c10-7" transform="translate(666.3,942.7)"><g id="c10-7-l"><circle class="bo" cx="-29.5" r="7.8"/></g><g id="c10-7-r"><circle class="ro" cx="29.5" r="7.8"/></g><g id="c10-7-b"><circle class="bf" cy="34.7" r="8.5"/></g><text class="v i" y="67.7">1.025</text></g>
<g id="c10-8" transform="translate(766.8,942.7)"><g id="c10-8-l"><circle class="bf" cx="-29.5" r="8.5"/></g><g id="c10-8-r"><circle class="ro" cx="29.5" r="7.8"/></g><g id="c10-8-b"><circle class="bo" cy="34.7" r="7.8"/></g><text class="v" y="67.7">1.024</text></g>
</g>
</svg>
